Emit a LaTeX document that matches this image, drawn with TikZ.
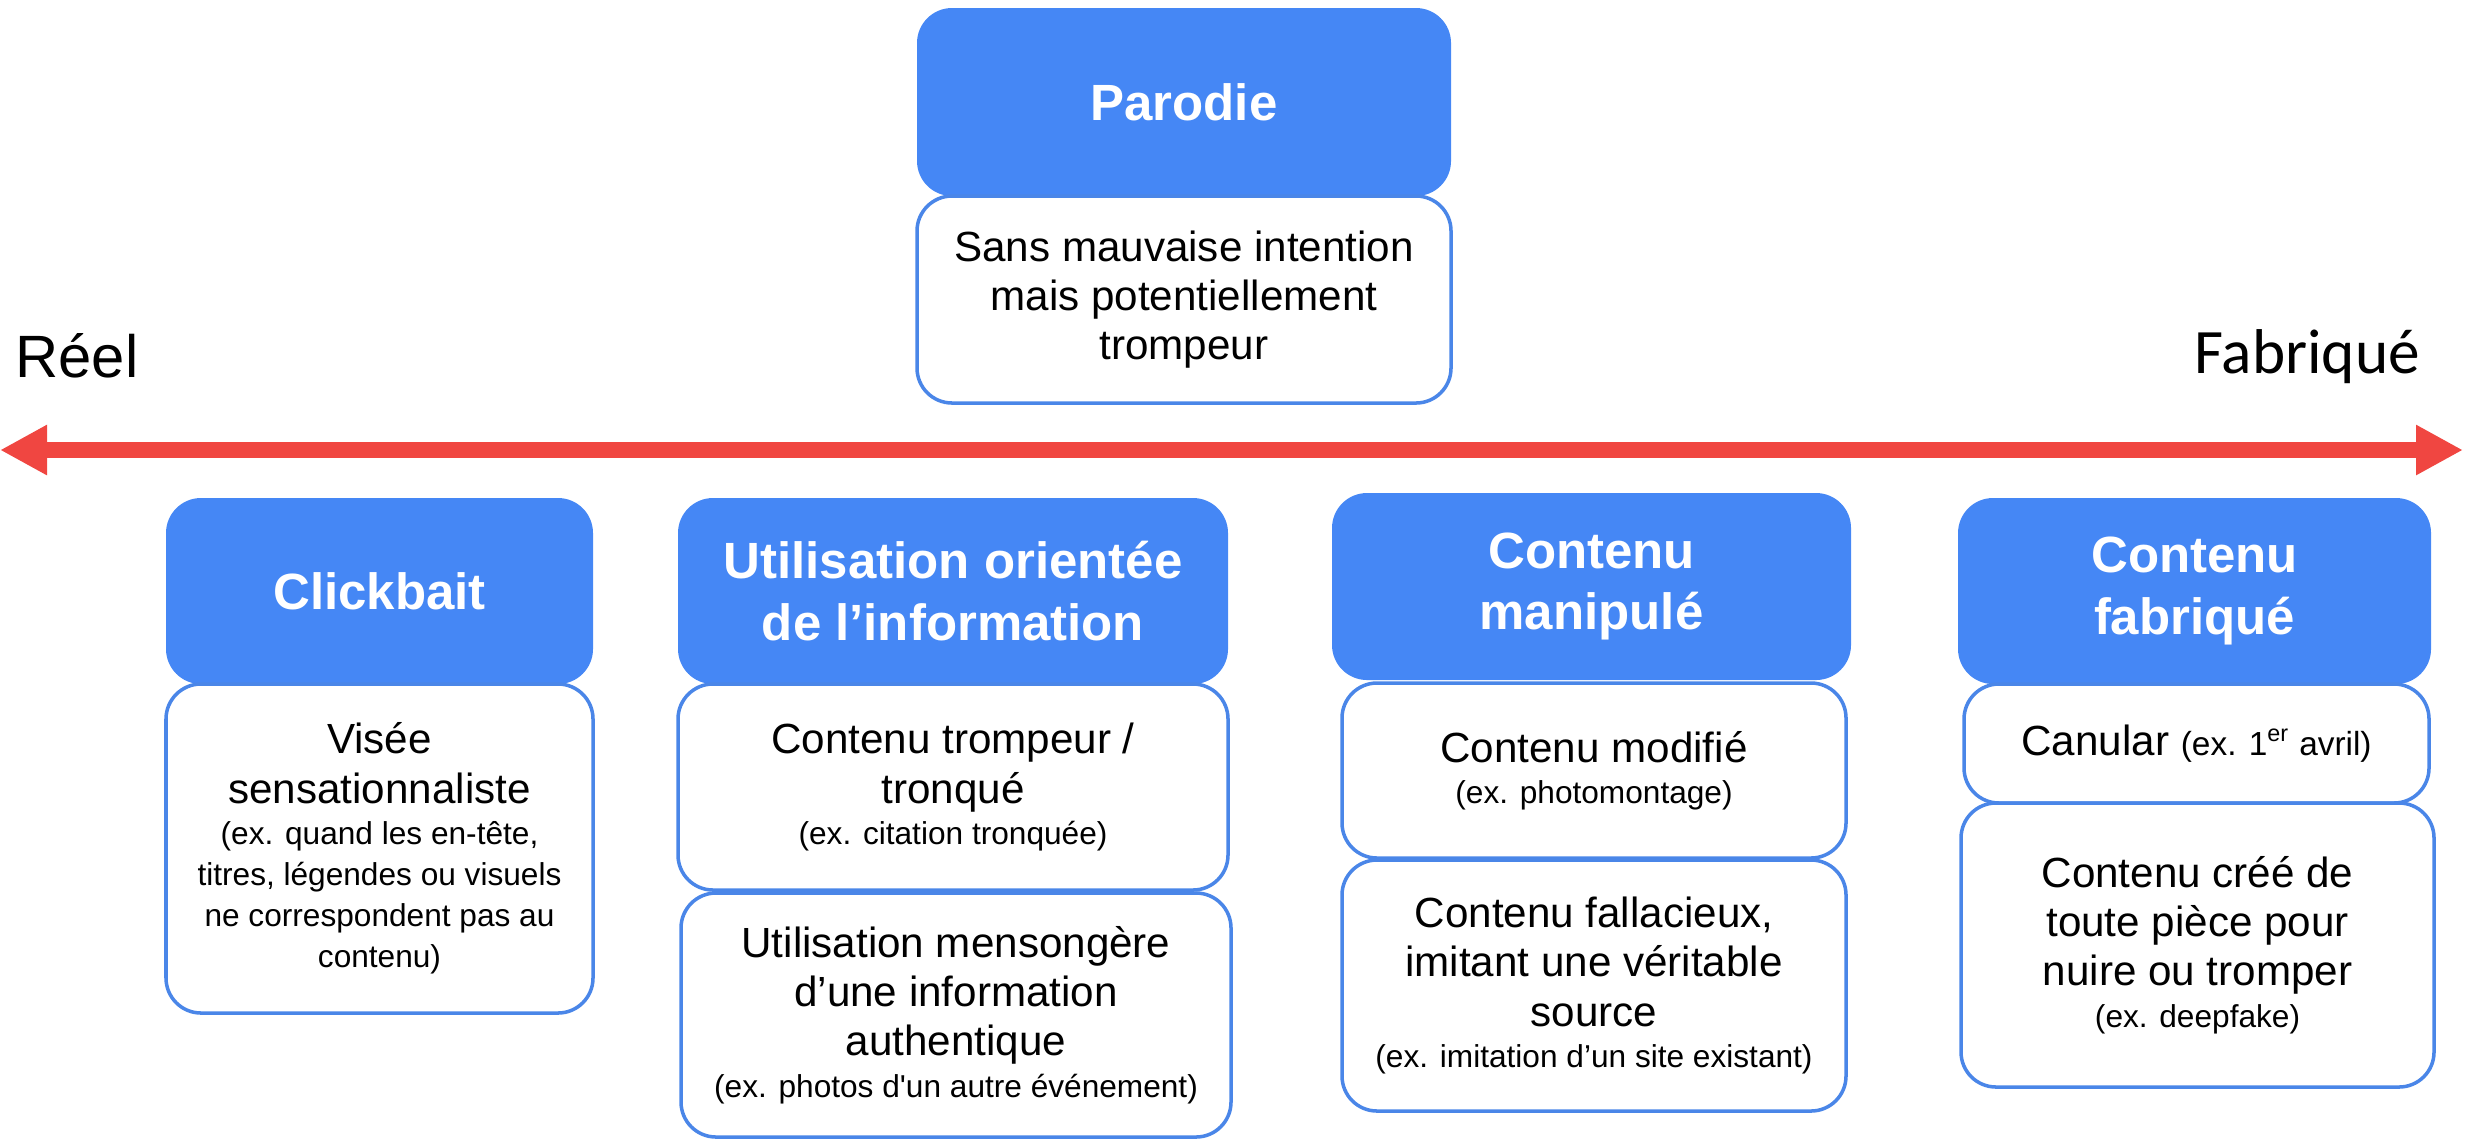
\documentclass[tikz,border=0pt]{standalone}
\usepackage{fontspec}
\setmainfont{Liberation Sans}
\newfontfamily\calibri{Carlito}
\usepackage{tikz}
\usetikzlibrary{arrows.meta}
\definecolor{bleu}{RGB}{69,135,245}
\definecolor{trait}{RGB}{74,134,232}
\definecolor{rouge}{RGB}{240,70,65}
\newcommand{\titre}{\fontsize{14.5}{17.6}\selectfont\bfseries}
\newcommand{\corps}{\fontsize{12}{14}\selectfont}
\newcommand{\petit}{\fontsize{9}{11.7}\selectfont}

\begin{document}
\begin{tikzpicture}[
  entete/.style={fill=bleu, rounded corners=0.35cm, text=white, font=\titre, align=center, inner sep=0pt},
  boite/.style={draw=trait, line width=1pt, fill=white, rounded corners=0.35cm, font=\corps, align=center, inner sep=0pt},
  fleche/.style={rouge, line width=0.16cm, {Triangle[length=0.47cm,width=0.47cm]}-{Triangle[length=0.47cm,width=0.47cm]}}]
\useasboundingbox (0,0) rectangle (24.78,-11.39);
\node (reel) at (0.77,-3.77) [anchor=base, font=\fontsize{17}{20}\selectfont] {Réel};
\node (fabr) at (23.07,-3.73) [anchor=base, font=\calibri\fontsize{18}{21}\selectfont] {Fabriqué};
\coordinate (gauche) at (0,-4.5);
\coordinate (droite) at (24.63,-4.5);
\draw [fleche] (gauche) -- (droite);
\node (parodie) at (11.84,-1.02) [entete, minimum width=5.34cm, minimum height=1.88cm] {Parodie};
\node (parodieTxt) at (11.84,-2.995) [boite, minimum width=5.34cm, minimum height=2.07cm] {Sans mauvaise intention\\ mais potentiellement\\ trompeur};
\node (clickbait) at (3.795,-5.91) [entete, minimum width=4.27cm, minimum height=1.86cm] {Clickbait};
\node (visee) at (3.795,-8.485) [boite, minimum width=4.27cm, minimum height=3.29cm] {Visée\\ sensationnaliste\\[-2.3pt] {\petit (ex. quand les en-tête,}\\[-2.3pt] {\petit titres, légendes ou visuels}\\[-2.3pt] {\petit ne correspondent pas au}\\[-2.3pt] {\petit contenu)}};
\node (orientee) at (9.53,-5.91) [entete, minimum width=5.5cm, minimum height=1.86cm] {Utilisation orientée\\ de l’information};
\node (tronque) at (9.53,-7.87) [boite, minimum width=5.5cm, minimum height=2.06cm] {Contenu trompeur /\\ tronqué\\[-2.3pt] {\petit (ex. citation tronquée)}};
\node (mensonge) at (9.56,-10.15) [boite, minimum width=5.5cm, minimum height=2.44cm] {Utilisation mensongère\\ d’une information\\ authentique\\[-2.3pt] {\petit (ex. photos d\textquotesingle un autre événement)}};
\node (manipule) at (15.915,-5.865) [entete, minimum width=5.19cm, minimum height=1.87cm] {Contenu\\ manipulé};
\node (modifie) at (15.94,-7.705) [boite, minimum width=5.04cm, minimum height=1.75cm] {Contenu modifié\\[-2.3pt] {\petit (ex. photomontage)}};
\node (fallacieux) at (15.94,-9.855) [boite, minimum width=5.04cm, minimum height=2.51cm] {Contenu fallacieux,\\ imitant une véritable\\ source\\[-2.3pt] {\petit (ex. imitation d’un site existant)}};
\node (fabrique) at (21.945,-5.91) [entete, minimum width=4.73cm, minimum height=1.86cm] {Contenu\\ fabriqué};
\node (canular) at (21.965,-7.435) [boite, minimum width=4.65cm, minimum height=1.19cm] {Canular {\fontsize{9.5}{11.7}\selectfont (ex. 1\textsuperscript{er} avril)}};
\node (cree) at (21.975,-9.45) [boite, minimum width=4.73cm, minimum height=2.84cm] {Contenu créé de\\ toute pièce pour\\ nuire ou tromper\\[-2.3pt] {\petit (ex. deepfake)}};
\end{tikzpicture}
\end{document}
